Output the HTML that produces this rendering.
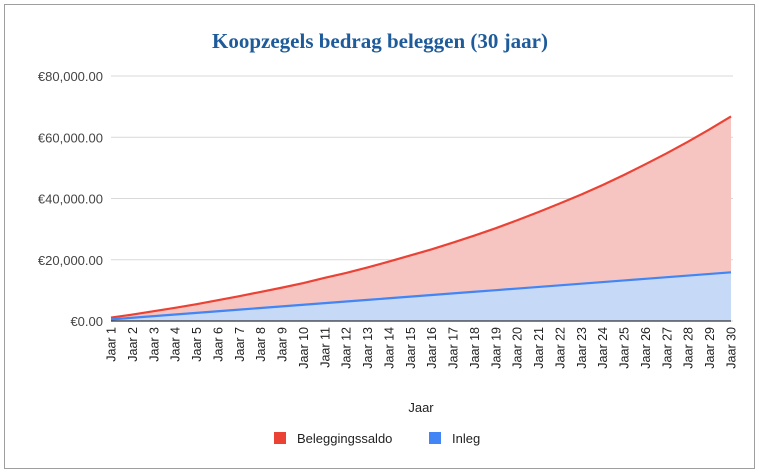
<!DOCTYPE html>
<html><head><meta charset="utf-8"><style>
body{margin:0;background:#fff;}
svg{display:block;font-family:"Liberation Sans",sans-serif;}
</style></head><body>
<svg id="chart" width="759" height="473">
<rect x="4.5" y="4.5" width="750" height="464" fill="#fff" stroke="#9e9e9e"/>
<text x="380" y="48" text-anchor="middle" font-family="Liberation Serif,serif" font-weight="bold" font-size="21" fill="#1e5b9b">Koopzegels bedrag beleggen (30 jaar)</text>
<g id="grid"></g><g id="areas"></g><g id="xlabels"></g>
<text x="421" y="412" text-anchor="middle" font-size="13" fill="#222">Jaar</text>
<g><rect x="274" y="432" width="12" height="12" fill="#ea4335"/><text x="297" y="443" font-size="13" fill="#222">Beleggingssaldo</text></g>
<g><rect x="429" y="432" width="12" height="12" fill="#4285f4"/><text x="452" y="443" font-size="13" fill="#222">Inleg</text></g>
</svg>
<script>
const categories=[];for(let i=1;i<=30;i++)categories.push('Jaar '+i);
const saldo=[1100,2100,3200,4300,5500,6800,8100,9500,10900,12400,14100,15700,17500,19400,21400,23400,25600,27900,30300,32900,35600,38400,41300,44400,47700,51200,54800,58600,62600,66800];
const inleg=[530,1060,1590,2120,2650,3180,3710,4240,4770,5300,5830,6360,6890,7420,7950,8480,9010,9540,10070,10600,11130,11660,12190,12720,13250,13780,14310,14840,15370,15900];
const yTicks=[0,20000,40000,60000,80000];
const yTickLabels=['€0.00','€20,000.00','€40,000.00','€60,000.00','€80,000.00'];
const NS='http://www.w3.org/2000/svg';
const x0=111,x1=731,yb=321,yt=76,ymax=80000;
const X=i=>x0+(x1-x0)*i/(categories.length-1);
const Y=v=>yb-(yb-yt)*v/ymax;
function mk(t,a,p){const e=document.createElementNS(NS,t);for(const k in a)e.setAttribute(k,a[k]);p.appendChild(e);return e;}
const grid=document.getElementById('grid');
yTicks.forEach((v,i)=>{
 const l=mk('line',{x1:x0,x2:x1+2,y1:Y(v),y2:Y(v),stroke:'#d9d9d9','stroke-width':1},grid);
 
 
 const t=mk('text',{x:103,y:Y(v)+5,'text-anchor':'end','font-size':13,fill:'#444'},grid);
 t.textContent=yTickLabels[i];
 
 
});
const areas=document.getElementById('areas');
function area(vals,fill,stroke,name){
 let pts=vals.map((v,i)=>X(i)+','+Y(v)).join(' ');
 const a=mk('polygon',{points:X(0)+','+yb+' '+pts+' '+X(vals.length-1)+','+yb,fill:fill},areas);
 
 
 const l=mk('polyline',{points:pts,fill:'none',stroke:stroke,'stroke-width':2.2},areas);
 
 
}
area(saldo,'#f6c5c1','#ea4335','beleggingssaldo');
area(inleg,'#c6d9f7','#4285f4','inleg');
const b=mk('line',{x1:x0,x2:x1,y1:yb,y2:yb,stroke:'#333','stroke-width':1.2},areas);


const xl=document.getElementById('xlabels');
categories.forEach((c,i)=>{
 const t=mk('text',{x:0,y:0,'text-anchor':'end','font-size':12.5,fill:'#222',transform:'translate('+(X(i)+4.5)+',327) rotate(-90)'},xl);
 t.textContent=c;
 
 
});
</script>
</body></html>
